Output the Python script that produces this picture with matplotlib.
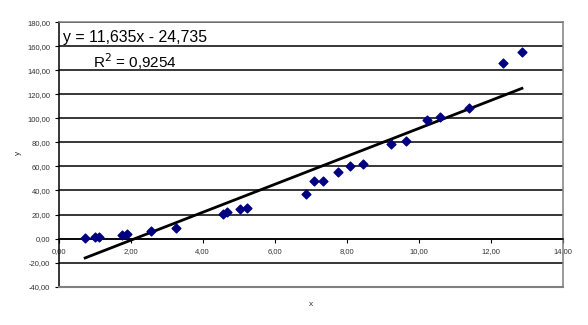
import matplotlib
matplotlib.use("Agg")
import matplotlib.pyplot as plt
from matplotlib.ticker import FuncFormatter, MultipleLocator
import numpy as np

plt.rcParams['font.family'] = ['Liberation Sans', 'DejaVu Sans']

# data
x_vals = [0.74, 1.01, 1.13, 1.75, 1.89, 2.57, 3.27, 4.56, 4.67, 5.05, 5.24,
          6.88, 7.10, 7.35, 7.76, 8.10, 8.46, 9.23, 9.65, 10.23, 10.59, 11.40,
          12.33, 12.86]
y_vals = [0.4, 1.2, 1.2, 3.0, 3.8, 6.3, 8.5, 20.2, 22.4, 24.3, 25.2,
          36.8, 47.6, 47.6, 55.1, 60.1, 61.8, 78.6, 81.1, 98.6, 101.1, 108.6,
          145.7, 155.1]
slope = 11.635
intercept = -24.735
eq_text = "y = 11,635x - 24,735"
r2_text = "R$^2$ = 0,9254"

fig = plt.figure(figsize=(5.88, 3.25), dpi=100)
ax = fig.add_axes([0.0995, 0.118, 0.858, 0.814])

ax.set_xlim(0, 14)
ax.set_ylim(-40, 180)
ax.xaxis.set_major_locator(MultipleLocator(2))
ax.yaxis.set_major_locator(MultipleLocator(20))
fmt = FuncFormatter(lambda v, p: ("%.2f" % v).replace('.', ','))
ax.xaxis.set_major_formatter(fmt)
ax.yaxis.set_major_formatter(fmt)

ax.yaxis.grid(True, color='black', lw=1.1, zorder=0)

ax.spines['bottom'].set_position(('data', 0))
ax.spines['bottom'].set_color('black')
ax.spines['left'].set_color('black')
ax.spines['top'].set_color('#808080')
ax.spines['right'].set_color('#808080')
for s in ax.spines.values():
    s.set_linewidth(1.1)
ax.axhline(-40, color='#808080', lw=1.5, zorder=3, clip_on=False)

ax.tick_params(axis='x', direction='out', length=3, width=0.8, labelsize=5.5,
               labelcolor='#333333', pad=4)
ax.tick_params(axis='y', direction='out', length=3, width=0.8, labelsize=5.5,
               labelcolor='#333333', pad=3)

ax.scatter(x_vals, y_vals, marker='D', s=20, color='#000080', zorder=4)

xl = np.array([min(x_vals), max(x_vals)])
ax.plot(xl, slope * xl + intercept, color='black', lw=2, zorder=3)

ax.set_xlabel('x', fontsize=6, color='#333333')
ax.set_ylabel('y', fontsize=6, color='#333333')
ax.xaxis.set_label_coords(0.5, -0.054)
ax.yaxis.set_label_coords(-0.072, 0.505)

fig.text(0.107, 0.885, eq_text, fontsize=11.4, va='center', ha='left')
fig.text(0.158, 0.81, r2_text, fontsize=11, va='center', ha='left')

fig.savefig('out.png', dpi=100)
